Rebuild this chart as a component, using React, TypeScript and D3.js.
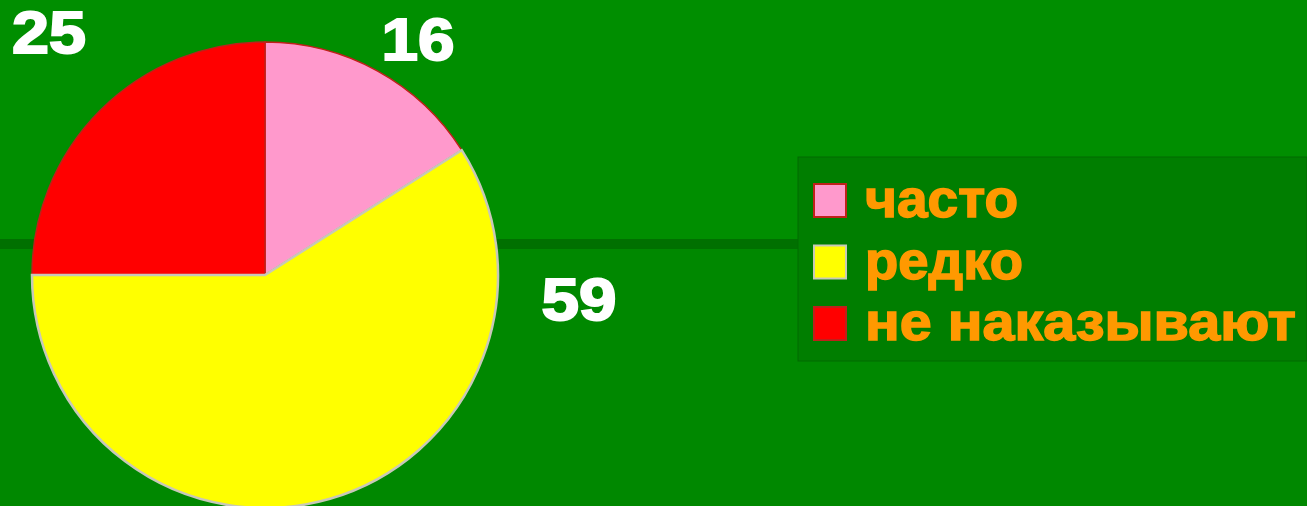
import React from "react";
import * as d3 from "d3";

const categories = ["часто", "редко", "не наказывают"];
const values = [16, 59, 25];
const colors = ["#FF99CC", "#FFFF00", "#FF0000"];
const strokes = ["#C0201A", "#C8C8B8", "#C0201A"];

const W = 1307;
const H = 506;

export default function App() {
  const cx = 265;
  const cy = 275;
  const r = 233;
  const pie = d3.pie<number>().sort(null).value((d) => d);
  const arcs = pie(values);
  const arcGen = d3.arc<d3.PieArcDatum<number>>().innerRadius(0).outerRadius(r);

  const labelPos: [number, number][] = [
    [418, 60],
    [579, 320],
    [49, 53],
  ];
  const labelWidth = [73, 75, 74];
  const legendTextWidth = [153, 158, 431];

  const legendX = 798;
  const legendY = 157;
  const legendW = W - legendX;
  const legendH = 204;
  const rowY = d3.scaleLinear().domain([0, 2]).range([217, 340]);

  const drawOrder = [0, 2, 1];

  return (
    <svg
      width={W}
      height={H}
      style={{ position: "absolute", left: 0, top: 0, display: "block" }}
      fontFamily="'Liberation Sans', Arial, sans-serif"
    >
      <rect x={0} y={0} width={W} height={H} fill="#008800" />
      <rect x={0} y={0} width={W} height={239} fill="#008E00" />
      <rect x={0} y={239} width={W} height={10} fill="#007000" />
      <g transform={`translate(${cx},${cy})`}>
        {drawOrder.map((i) => (
          <path
            key={i}
            d={arcGen(arcs[i]) || ""}
            fill={colors[i]}
            stroke={strokes[i]}
            strokeWidth={i === 1 ? 2.5 : 1.5}
          />
        ))}
      </g>
      {values.map((v, i) => (
        <text
          key={i}
          x={labelPos[i][0]}
          y={labelPos[i][1]}
          textAnchor="middle"
          fill="#FFFFFF"
          stroke="#FFFFFF"
          strokeWidth={2}
          fontWeight="bold"
          fontSize={59}
          textLength={labelWidth[i]}
          lengthAdjust="spacingAndGlyphs"
        >
          {v}
        </text>
      ))}
      <rect x={legendX} y={legendY} width={legendW} height={legendH} fill="#007E00" stroke="#006A00" strokeWidth={1} />
      {categories.map((c, i) => (
        <g key={c}>
          <rect
            x={814}
            y={rowY(i) - 33}
            width={32}
            height={33}
            fill={colors[i]}
            stroke={strokes[i]}
            strokeWidth={2}
          />
          <text
            x={865}
            y={rowY(i)}
            fill="#FF9900"
            stroke="#FF9900"
            strokeWidth={1.5}
            fontWeight="bold"
            fontSize={54}
            textLength={legendTextWidth[i]}
            lengthAdjust="spacingAndGlyphs"
          >
            {c}
          </text>
        </g>
      ))}
    </svg>
  );
}
